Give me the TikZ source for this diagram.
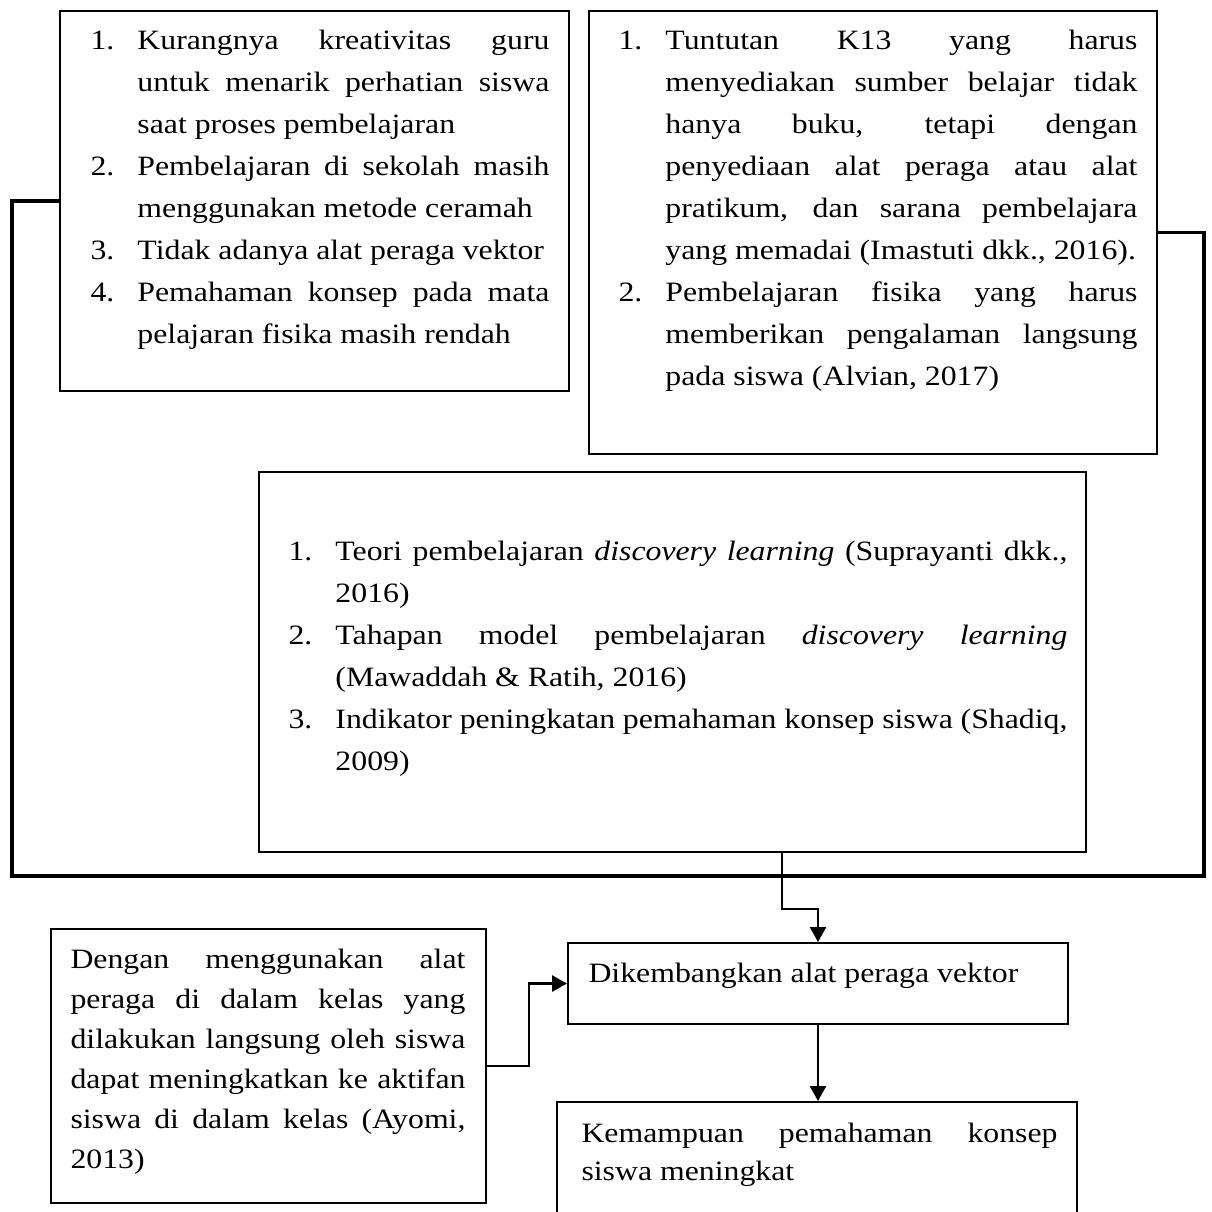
\documentclass[tikz,border=0pt]{standalone}
\usepackage{fontspec}
\setmainfont{Liberation Serif}[FakeStretch=1.135]
\usetikzlibrary{arrows.meta}

\newlength{\lebar}
\setlength{\lebar}{17.6pt}
\newcommand{\nomor}[2]{\noindent\hangindent=\lebar\hangafter=1\makebox[\lebar][l]{#1}#2\par}
\hbadness=10000

\begin{document}
\begin{tikzpicture}[x=0.375pt,y=-0.375pt,
    kotak/.style={draw,line width=0.75pt,inner sep=0pt,anchor=north west},
    isi/.style={anchor=base west,inner sep=0pt,align=justify,font=\fontsize{10.5}{15.75}\selectfont},
    garis/.style={line width=0.9pt},
    tebal/.style={line width=1.15pt},
    panah/.style={garis,-{Triangle[length=5.6pt,width=6pt]}}]
    \useasboundingbox (0,0) rectangle (1211,1212);
    \clip (0,0) rectangle (1211,1212);

    % kotak-kotak
    \node[kotak,minimum width=190.9pt,minimum height=142.5pt] (kendala) at (59,10) {};
    \node[kotak,minimum width=213pt,minimum height=166.1pt] (tuntutan) at (588,10) {};
    \node[kotak,minimum width=310.1pt,minimum height=142.5pt] (teori) at (258,471) {};
    \node[kotak,minimum width=163.1pt,minimum height=102.75pt] (ayomi) at (50,928) {};
    \node[kotak,minimum width=187.5pt,minimum height=30.4pt] (alat) at (567,942) {};
    \node[kotak,minimum width=195pt,minimum height=60pt] (hasil) at (556,1101) {};

    % isi teks
    \node[isi,text width=172.1pt] (kendalaIsi) at (90,50) {%
      \nomor{1.}{Kurangnya kreativitas guru\linebreak untuk menarik perhatian siswa\linebreak saat proses pembelajaran}
      \nomor{2.}{Pembelajaran di sekolah masih\linebreak menggunakan metode ceramah}
      \nomor{3.}{Tidak adanya alat peraga vektor}
      \nomor{4.}{Pemahaman konsep pada mata\linebreak pelajaran fisika masih rendah}};
    \node[isi,text width=194.6pt] (tuntutanIsi) at (618,50) {%
      \nomor{1.}{Tuntutan K13 yang harus\linebreak menyediakan sumber belajar tidak\linebreak hanya buku, tetapi dengan\linebreak penyediaan alat peraga atau alat\linebreak pratikum, dan sarana pembelajara\linebreak yang memadai (Imastuti dkk., 2016).}
      \nomor{2.}{Pembelajaran fisika yang harus\linebreak memberikan pengalaman langsung\linebreak pada siswa (Alvian, 2017)}};
    \node[isi,text width=292.1pt] (teoriIsi) at (288,560) {%
      \nomor{1.}{Teori pembelajaran \textit{discovery learning} (Suprayanti dkk.,\linebreak 2016)}
      \nomor{2.}{Tahapan model pembelajaran \textit{discovery learning}\linebreak (Mawaddah \& Ratih, 2016)}
      \nomor{3.}{Indikator peningkatan pemahaman konsep siswa (Shadiq,\linebreak 2009)}};
    \node[isi,text width=148.1pt,font=\fontsize{10.5}{15}\selectfont] (ayomiIsi) at (70,968) {%
      Dengan menggunakan alat\linebreak peraga di dalam kelas yang\linebreak dilakukan langsung oleh siswa\linebreak dapat meningkatkan ke aktifan\linebreak siswa di dalam kelas (Ayomi,\linebreak 2013)};
    \node[isi,align=left] (alatIsi) at (588,982) {Dikembangkan alat peraga vektor};
    \node[isi,text width=178.5pt,font=\fontsize{10.5}{14.6}\selectfont] (hasilIsi) at (581,1142) {%
      Kemampuan pemahaman konsep\linebreak siswa meningkat};

    % penghubung
    \coordinate (kiri) at (12,876);
    \coordinate (kanan) at (1204,876);
    \coordinate (belok) at (782,909);
    \draw[tebal] (kendala.west) -| (kiri) -- (kanan) |- (tuntutan.east);
    \draw[panah] (belok |- teori.south) -- (belok) -| (alat.north);
    \draw[panah] (ayomi.east) -- ++(42,0) |- (alat.west);
    \draw[panah] (alat.south) -- (alat.south |- hasil.north);
\end{tikzpicture}
\end{document}
